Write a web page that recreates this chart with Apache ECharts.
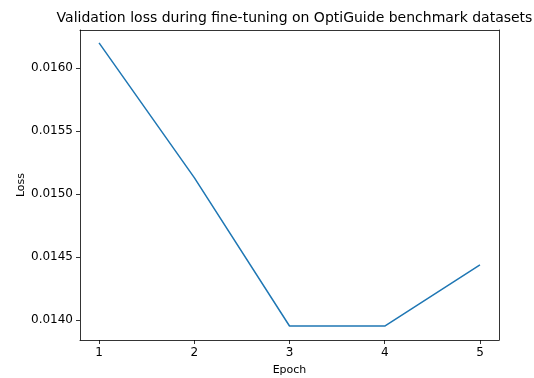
<!DOCTYPE html>
<html>
<head>
<meta charset="utf-8">
<script src="https://cdn.jsdelivr.net/npm/echarts@6/dist/echarts.min.js"></script>
<style>
  html, body { margin: 0; padding: 0; background: #fff; }
  #chart { width: 534px; height: 378px; }
</style>
</head>
<body>
<div id="chart"></div>
<script>
var epochs = [1, 2, 3, 4, 5];
var loss = [0.01620, 0.01513, 0.013952, 0.013952, 0.014437];
var xTicks = [1, 2, 3, 4, 5];
var yTicks = [0.0140, 0.0145, 0.0150, 0.0155, 0.0160];

var myChart = echarts.init(document.getElementById('chart'));
var font = 'DejaVu Sans';
var yMin = 0.013841, yMax = 0.016302;

var option = {
  animation: false,
  title: {
    text: 'Validation loss during fine-tuning on OptiGuide benchmark datasets',
    left: 289.5,
    textAlign: 'center',
    top: 6,
    textStyle: { fontFamily: font, fontSize: 14, fontWeight: 'normal', color: '#000' }
  },
  grid: { left: 80, right: 35, top: 30, bottom: 38, containLabel: false, outerBoundsMode: 'none' },
  xAxis: [{
    type: 'value',
    min: 0.8,
    max: 5.2,
    name: 'Epoch',
    nameLocation: 'middle',
    nameGap: 25,
    nameMoveOverlap: false,
    nameTextStyle: { fontFamily: font, fontSize: 11, color: '#000' },
    splitLine: { show: false },
    axisLine: { show: true, onZero: false, lineStyle: { color: '#000', width: 0.8 } },
    axisTick: { show: true, customValues: xTicks, length: 4, lineStyle: { color: '#000', width: 0.8 } },
    axisLabel: {
      customValues: xTicks,
      fontFamily: font, fontSize: 12, color: '#000', margin: 7,
      formatter: function (v) { return String(v); }
    }
  }, {
    type: 'value', position: 'top', min: 0.8, max: 5.2,
    axisLine: { show: true, lineStyle: { color: '#000', width: 0.8 } },
    axisTick: { show: false }, axisLabel: { show: false }, splitLine: { show: false }
  }],
  yAxis: [{
    type: 'value',
    min: yMin,
    max: yMax,
    name: 'Loss',
    nameLocation: 'middle',
    nameGap: 53,
    nameMoveOverlap: false,
    nameTextStyle: { fontFamily: font, fontSize: 11, color: '#000' },
    splitLine: { show: false },
    axisLine: { show: true, onZero: false, lineStyle: { color: '#000', width: 0.8 } },
    axisTick: { show: true, customValues: yTicks, length: 4, lineStyle: { color: '#000', width: 0.8 } },
    axisLabel: {
      customValues: yTicks,
      fontFamily: font, fontSize: 12, color: '#000', margin: 7,
      formatter: function (v) { return v.toFixed(4); }
    }
  }, {
    type: 'value', position: 'right', min: yMin, max: yMax,
    axisLine: { show: true, lineStyle: { color: '#000', width: 0.8 } },
    axisTick: { show: false }, axisLabel: { show: false }, splitLine: { show: false }
  }],
  series: [
    {
      type: 'line',
      data: epochs.map(function (e, i) { return [e, loss[i]]; }),
      showSymbol: false,
      lineStyle: { color: '#1f77b4', width: 1.5 },
      itemStyle: { color: '#1f77b4' }
    }
  ]
};

myChart.setOption(option);
</script>
</body>
</html>
